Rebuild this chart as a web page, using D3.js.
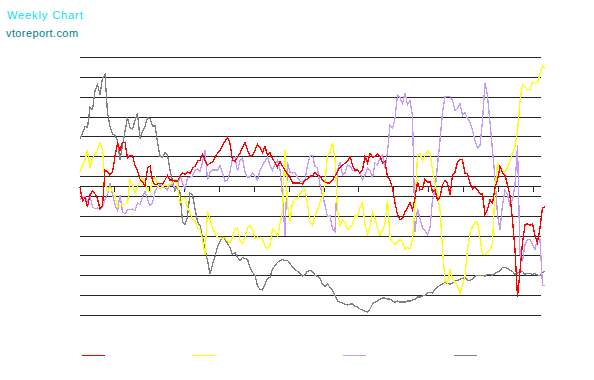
<!DOCTYPE html>
<html>
<head>
<meta charset="utf-8">
<script src="https://cdn.jsdelivr.net/npm/d3@7"></script>
<style>
html,body{margin:0;padding:0;background:#fff;}
svg{display:block;}
</style>
</head>
<body>
<svg id="chart" width="594" height="380"></svg>
<script>
// ---- data (one value per half-week step) ----
const seriesNames = ["Series A", "Series B", "Series C", "Series D"];
const seriesColors = ["#ff0000", "#ffff00", "#c49cf8", "#808080"];

const redValues = [
  -1,-15,-12,-21,-9,-5,-8,-13,-23,-20,
  16,14,11,14,30,43,36,44,44,28,
  31,31,21,15,7,4,0,18,20,5,
  1,2,3,2,6,11,6,6,5,5,
  10,13,12,14,13,18,20,25,26,32,
  26,21,23,24,29,33,36,41,45,49,
  43,26,25,29,33,39,44,36,30,31,
  36,42,39,34,40,31,34,27,24,19,
  25,20,16,12,9,3,3,3,3,2,
  6,7,10,10,14,11,10,6,4,3,
  3,6,10,15,19,21,23,25,30,21,
  16,16,13,16,30,23,33,29,30,32,
  30,23,25,9,6,-2,-17,-29,-34,-33,
  -26,-22,-17,-24,-12,4,-4,-3,7,4,
  4,-6,-4,-14,-11,1,6,3,-9,11,
  14,24,27,26,13,12,3,-3,-1,-4,
  -8,-8,-29,-24,-14,-17,-2,6,20,13,
  11,1,-10,-34,-64,-112,-86,-57,-39,-38,
  -40,-38,-50,-57,-42,-22,-21];

const yellowValues = [
  14,21,26,36,18,28,32,36,44,36,
  3,-6,-1,-5,-10,-21,-20,-18,-19,-17,
  6,1,-7,-1,5,8,4,-4,-6,6,
  9,0,-3,-1,1,0,2,3,7,3,
  -17,-13,-12,-22,-27,-34,-35,-42,-44,-54,
  -69,-25,-32,-43,-48,-52,-52,-53,-52,-56,
  -57,-52,-44,-42,-55,-58,-52,-42,-40,-44,
  -53,-51,-53,-53,-61,-63,-60,-43,-46,-51,
  -38,-26,36,-19,-36,-16,-13,-12,-8,-5,
  -4,-18,-36,-40,-30,-24,-17,-10,4,31,
  34,44,28,-24,-40,-34,-37,-44,-42,-39,
  -30,-31,-22,-17,-38,-50,-41,-26,-32,-43,
  -50,-45,-38,-14,-52,-57,-59,-56,-54,-57,
  -64,-62,-63,-54,-19,31,33,25,31,35,
  33,17,2,-8,-24,-64,-95,-98,-84,-94,
  -96,-101,-108,-100,-91,-64,-48,-41,-37,-36,
  -52,-69,-69,-67,-64,-58,-4,23,19,16,
  14,18,25,32,40,55,86,102,100,97,
  97,105,103,105,113,121,118];

const purpleValues = [
  -14,-11,-11,-16,-10,-21,-23,-22,-24,-21,
  -14,-9,3,-8,-19,-25,-9,-26,-28,-24,
  -24,-23,-25,-17,-19,-11,-6,-13,-20,-17,
  -6,-1,2,-1,-2,-4,1,1,-2,-3,
  11,3,-3,8,9,10,16,17,15,24,
  36,6,14,16,16,16,21,13,5,6,
  14,28,29,15,26,28,14,9,9,13,
  10,6,16,21,25,29,21,16,22,26,
  17,-9,-50,24,14,13,14,8,5,4,
  6,21,30,31,20,18,1,-9,-19,-31,
  -30,-43,-46,16,24,11,13,21,20,16,
  15,16,13,6,11,18,16,8,23,21,
  28,31,18,34,61,58,68,92,89,83,
  94,82,86,71,-46,-23,-33,-42,-45,-49,
  -42,-14,-4,21,46,74,90,90,90,86,
  76,78,83,71,74,68,64,56,46,38,
  41,66,104,91,64,36,8,-29,-44,-19,
  -4,-9,-19,-14,1,41,-69,-76,-59,-54,
  -54,-59,-64,-52,-54,-100,-100];

const grayValues = [
  48,53,60,59,79,77,96,102,92,109,
  112,74,60,52,51,46,26,41,55,69,
  59,57,66,73,48,55,60,69,68,60,
  61,44,30,29,34,31,16,5,-5,0,
  -7,-36,-39,-31,-7,-9,-23,-36,-40,-51,
  -64,-75,-89,-79,-71,-61,-56,-51,-54,-58,
  -62,-69,-67,-72,-75,-72,-73,-74,-82,-87,
  -90,-101,-104,-105,-99,-93,-92,-84,-80,-77,
  -75,-74,-75,-75,-78,-82,-84,-86,-88,-91,
  -89,-86,-85,-86,-90,-91,-93,-99,-101,-99,
  -102,-105,-110,-116,-117,-118,-119,-120,-119,-119,
  -121,-122,-124,-125,-126,-127,-124,-119,-117,-116,
  -114,-113,-113,-114,-114,-116,-117,-116,-117,-117,
  -117,-116,-116,-115,-114,-112,-112,-111,-110,-108,
  -107,-108,-104,-102,-100,-99,-97,-98,-99,-98,
  -96,-95,-94,-93,-92,-95,-95,-94,-91,-90,
  -90,-90,-91,-89,-89,-90,-88,-87,-85,-82,
  -82,-83,-85,-86,-89,-88,-86,-86,-89,-88,
  -88,-89,-88,-90,-90,-87,-86];

const tickSteps = [13.72,27.66,41.6,55.56,69.5,83.46,97.4,111.34,125.28,139.24,153.2,167.14,181.08];
const gridLevels = [130,110,90,70,50,30,10,-10,-30,-50,-70,-90,-110,-130];

const titleText = "Weekly Chart";
const siteText = "vtoreport.com";

// ---- drawing ----
const svg = d3.select("#chart");
const nSteps = redValues.length;
const x = d3.scaleLinear().domain([0, nSteps - 1]).range([80, 545]);
const y = d3.scaleLinear().domain([-130, 130]).range([315, 57]);

svg.append("text").attr("x", 7).attr("y", 19)
  .attr("font-family", "Liberation Sans, Arial, sans-serif")
  .attr("font-size", 11).attr("letter-spacing", 0.9)
  .attr("fill", "#00e6ee").text(titleText);
svg.append("text").attr("x", 6).attr("y", 37)
  .attr("font-family", "Liberation Sans, Arial, sans-serif")
  .attr("font-size", 11).attr("letter-spacing", 0.4)
  .attr("fill", "#008080").text(siteText);

// gridlines
svg.append("g").selectAll("line").data(gridLevels).join("line")
  .attr("x1", 80).attr("x2", 541)
  .attr("y1", d => Math.round(y(d)) + 0.5).attr("y2", d => Math.round(y(d)) + 0.5)
  .attr("stroke", "#262626").attr("stroke-width", 1)
  .attr("shape-rendering", "crispEdges");

// zero axis with ticks
const axis = d3.axisBottom(x).tickValues(tickSteps).tickSize(5).tickFormat("");
const gAxis = svg.append("g").attr("transform", `translate(0,${Math.round(y(0)) + 0.5})`).call(axis);
gAxis.select(".domain").attr("d", "M80,0H541").attr("stroke", "#262626").attr("shape-rendering", "crispEdges");
gAxis.selectAll(".tick line").attr("stroke", "#262626").attr("shape-rendering", "crispEdges");

const allSeries = [redValues, yellowValues, purpleValues, grayValues];
const line = d3.line().x((d, i) => x(i)).y(d => y(d));
const drawOrder = [3, 2, 1, 0];
svg.append("g").selectAll("path").data(drawOrder).join("path")
  .attr("d", k => line(allSeries[k]))
  .attr("fill", "none")
  .attr("stroke", k => seriesColors[k])
  .attr("stroke-width", 1.3)
  .attr("stroke-linejoin", "miter")
  .attr("shape-rendering", "crispEdges");

// legend
const legendX = [82, 192, 343, 454];
svg.append("g").selectAll("line").data(seriesNames).join("line")
  .attr("x1", (d, i) => legendX[i]).attr("x2", (d, i) => legendX[i] + 23)
  .attr("y1", 355.5).attr("y2", 355.5)
  .attr("stroke", (d, i) => seriesColors[i]).attr("stroke-width", 1)
  .attr("shape-rendering", "crispEdges");
</script>
</body>
</html>
